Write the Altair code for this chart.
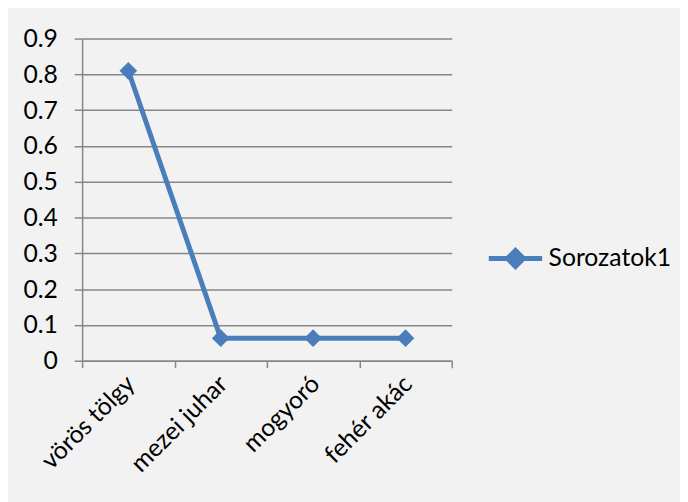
import altair as alt
import pandas as pd

categories = ["vörös tölgy", "mezei juhar", "mogyoró", "fehér akác"]
values = [0.81, 0.063, 0.063, 0.063]
series_name = "Sorozatok1"
y_ticks = [0, 0.1, 0.2, 0.3, 0.4, 0.5, 0.6, 0.7, 0.8, 0.9]

df = pd.DataFrame({"cat": categories, "val": values, "series": [series_name] * len(categories)})

BLUE = "#4a7ebb"
GRID = "#868686"
FONT = "Lato"
FS = 25

legend_path = "M-1,0H-0.3M0.3,0H1M-0.3,0L0,-0.3L0.3,0L0,0.3Z"

base = alt.Chart(df).encode(
    x=alt.X(
        "cat:N",
        sort=categories,
        title=None,
        scale=alt.Scale(type="band", paddingInner=0, paddingOuter=0),
        axis=alt.Axis(
            tickBand="extent",
            labelAngle=-45,
            labelAlign="right",
            labelBaseline="middle",
            labelPadding=12,
            labelOffset=2,
            tickSize=7,
            grid=False,
        ),
    ),
    y=alt.Y(
        "val:Q",
        title=None,
        scale=alt.Scale(domain=[0, 0.9], nice=False, zero=True),
        axis=alt.Axis(values=y_ticks, format=".1~f", tickSize=8, labelPadding=17, grid=True),
    ),
    color=alt.Color(
        "series:N",
        title=None,
        scale=alt.Scale(range=[BLUE]),
        legend=alt.Legend(
            orient="none",
            legendX=409,
            legendY=193,
            symbolType=legend_path,
            symbolSize=2916,
            symbolStrokeWidth=5,
            symbolFillColor=BLUE,
            symbolStrokeColor=BLUE,
            labelFontSize=FS,
            labelFont=FONT,
            labelColor="#000000",
            labelOffset=4,
        ),
    ),
)

line = base.mark_line(strokeWidth=5)
points = base.mark_point(shape="diamond", filled=True, size=320, opacity=1)

chart = (
    (line + points)
    .properties(
        width=374,
        height=326,
        autosize=alt.AutoSizeParams(type="none"),
        padding={"left": 75, "top": 28, "right": 231, "bottom": 140},
        background="#f2f2f2",
    )
    .configure_view(stroke=None)
    .configure_axis(
        domainColor=GRID,
        domainWidth=1.5,
        tickColor=GRID,
        tickWidth=1.5,
        gridColor=GRID,
        gridWidth=1.5,
        labelFont=FONT,
        labelFontSize=FS,
        labelColor="#000000",
    )
)

chart.save("out.html", embed_options={"renderer": "svg", "actions": False})
